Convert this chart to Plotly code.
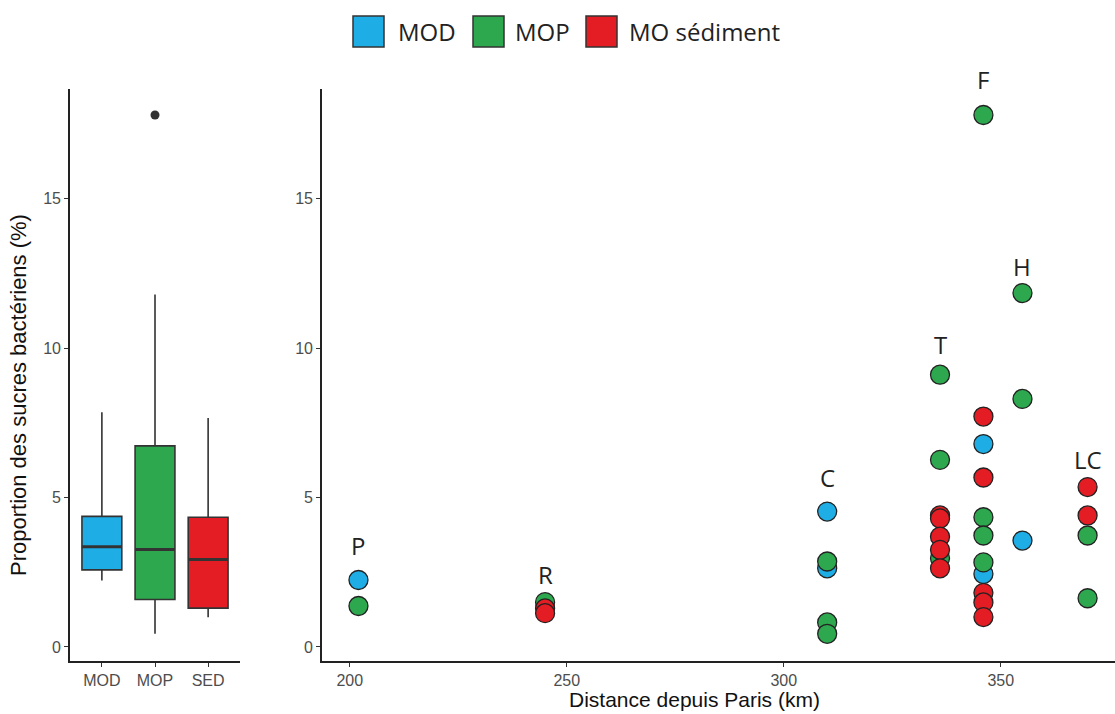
import plotly.graph_objects as go

W, H = 1115, 714

# ---------------- data ----------------
groups = ["MOD", "MOP", "SED"]
legend_names = ["MOD", "MOP", "MO sédiment"]
colors = ["#1FADE6", "#2EA84F", "#E31D23"]

# boxplot statistics
box_q1 = [2.58, 1.59, 1.30]
box_median = [3.35, 3.26, 2.93]
box_q3 = [4.37, 6.73, 4.34]
box_low = [2.22, 0.44, 0.99]
box_high = [7.85, 11.79, 7.66]
outlier_group = ["MOP"]
outlier_value = [17.8]

# scatter points: distance (km) and proportion (%)
mod_x = [202, 310, 310, 346, 346, 355]
mod_y = [2.24, 4.53, 2.63, 6.79, 2.44, 3.56]

mop_x = [202, 245, 310, 310, 310, 336, 336, 336, 346, 346, 346, 346, 355, 355, 370, 370]
mop_y = [1.37, 1.50, 2.86, 0.82, 0.44, 9.11, 6.26, 2.97, 17.8, 4.34, 3.73, 2.83, 11.84, 8.30, 3.73, 1.63]

sed_x = [245, 245, 336, 336, 336, 336, 336, 346, 346, 346, 346, 346, 370, 370]
sed_y = [1.29, 1.13, 4.40, 4.30, 3.69, 3.25, 2.63, 7.71, 5.67, 1.81, 1.49, 1.00, 5.35, 4.40]

site_names = ["P", "R", "C", "T", "F", "H", "LC"]
site_x = [202, 245, 310, 336, 346, 355, 370]
site_label_y = [3.41, 2.41, 5.66, 10.11, 18.98, 12.72, 6.26]

y_ticks = [0, 5, 10, 15]
x_ticks = [200, 250, 300, 350]

# ---------------- figure ----------------
def px_x(p):
    return p / W

def px_y(p):
    return 1 - p / H

TICKFONT = dict(family="Liberation Sans, Arial", size=16, color="#4D4D4D")
TITLEFONT = dict(family="Liberation Sans, Arial", size=21, color="#111111")
LABELFONT = dict(family="Open Sans, Noto Sans, sans-serif", size=24, color="#222222")

ydom = [px_y(661), px_y(89)]
yrange = [-0.47, 18.67]

def y_to_paper(v):
    return ydom[0] + (v - yrange[0]) / (yrange[1] - yrange[0]) * (ydom[1] - ydom[0])

fig = go.Figure()

# boxplots
for i, g in enumerate(groups):
    fig.add_trace(go.Box(
        x=[i + 1], q1=[box_q1[i]], median=[box_median[i]], q3=[box_q3[i]],
        lowerfence=[box_low[i]], upperfence=[box_high[i]],
        width=0.75, fillcolor=colors[i],
        line=dict(color="#333333", width=1.6),
        whiskerwidth=0, boxpoints=False, showlegend=False,
        xaxis="x", yaxis="y", hoverinfo="skip",
    ))
    # thicker median line
    fig.add_trace(go.Scatter(
        x=[i + 1 - 0.375, i + 1 + 0.375], y=[box_median[i], box_median[i]],
        mode="lines", line=dict(color="#333333", width=3),
        showlegend=False, xaxis="x", yaxis="y", hoverinfo="skip",
    ))

fig.add_trace(go.Scatter(
    x=[groups.index(g) + 1 for g in outlier_group], y=outlier_value,
    mode="markers", marker=dict(color="#333333", size=9),
    showlegend=False, xaxis="x", yaxis="y",
))

# scatter points
for xs, ys, c, name in [(mod_x, mod_y, colors[0], legend_names[0]),
                        (mop_x, mop_y, colors[1], legend_names[1]),
                        (sed_x, sed_y, colors[2], legend_names[2])]:
    fig.add_trace(go.Scatter(
        x=xs, y=ys, mode="markers", name=name,
        marker=dict(color=c, size=19, line=dict(color="#222222", width=1.3)),
        showlegend=False, xaxis="x2", yaxis="y2", cliponaxis=False,
    ))

annotations = []
for n, sx, sy in zip(site_names, site_x, site_label_y):
    annotations.append(dict(x=sx, y=y_to_paper(sy), xref="x2", yref="paper", text=n,
                            showarrow=False, font=LABELFONT,
                            xanchor="center", yanchor="middle"))

# axis titles
annotations.append(dict(x=px_x(18), y=px_y(395), xref="paper", yref="paper",
                        text="Proportion des sucres bactériens (%)", textangle=-90,
                        showarrow=False, font=dict(TITLEFONT, size=22),
                        xanchor="center", yanchor="middle"))
annotations.append(dict(x=px_x(694), y=px_y(699), xref="paper", yref="paper",
                        text="Distance depuis Paris (km)",
                        showarrow=False, font=TITLEFONT, xanchor="center", yanchor="middle"))

# manual legend
shapes = []
leg_sq_left = [353, 473, 586]
leg_txt_left = [396, 513, 627]
for i in range(3):
    shapes.append(dict(type="rect", xref="paper", yref="paper",
                       x0=px_x(leg_sq_left[i]), x1=px_x(leg_sq_left[i] + 31),
                       y0=px_y(47), y1=px_y(16),
                       fillcolor=colors[i], line=dict(color="#333333", width=1.5)))
    annotations.append(dict(x=px_x(leg_txt_left[i]), y=px_y(32), xref="paper", yref="paper",
                            text=legend_names[i], showarrow=False,
                            font=LABELFONT, xanchor="left", yanchor="middle"))

axis_common = dict(showgrid=False, zeroline=False, showline=True, linecolor="#222222",
                   linewidth=1.6, ticks="outside", ticklen=4, tickcolor="#333333",
                   tickwidth=1.2, tickfont=TICKFONT)

fig.update_layout(
    width=W, height=H,
    margin=dict(l=0, r=0, t=0, b=0),
    plot_bgcolor="white", paper_bgcolor="white",
    showlegend=False,
    xaxis=dict(domain=[px_x(70), px_x(240)], range=[0.4, 3.6],
               tickvals=[1, 2, 3], ticktext=groups, anchor="y", **axis_common),
    yaxis=dict(domain=ydom, range=yrange, tickvals=y_ticks, anchor="x", **axis_common),
    xaxis2=dict(domain=[px_x(322), 1.0], range=[193.6, 193.6 + (W - 322) / 4.34],
                tickvals=x_ticks, anchor="y2", **axis_common),
    yaxis2=dict(domain=ydom, range=yrange, tickvals=y_ticks, anchor="x2", **axis_common),
    annotations=annotations,
    shapes=shapes,
)

fig.write_html("out.html", config={"displayModeBar": False},
               post_script="document.body.style.margin='0';document.body.style.overflow='hidden';")
